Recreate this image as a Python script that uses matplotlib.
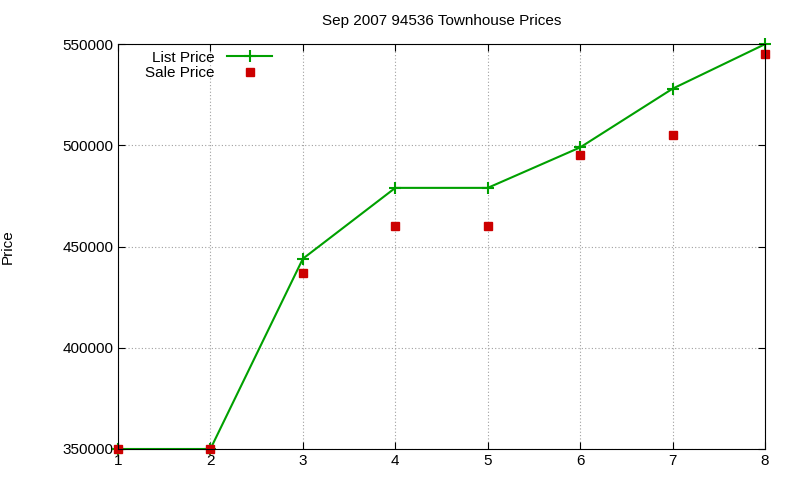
import matplotlib
matplotlib.use("Agg")
import matplotlib.pyplot as plt

x = [1, 2, 3, 4, 5, 6, 7, 8]
list_price = [350000, 350000, 444000, 479000, 479000, 499000, 528000, 550000]
sale_price = [350000, 350000, 437000, 460000, 460000, 495000, 505000, 545000]
yticks = [350000, 400000, 450000, 500000, 550000]

plt.rcParams['font.family'] = ['Liberation Sans', 'DejaVu Sans']
fig = plt.figure(figsize=(8, 4.8), dpi=100)
ax = fig.add_axes([0.1475, 0.0646, 0.8088, 0.8434])
ax.plot(x, list_price, color='#00a000', lw=1.5, marker='+', ms=8, mew=1.5, label='List Price', clip_on=False)
ax.plot(x, sale_price, ls='none', marker='s', color='#cc0000', ms=6, label='Sale Price', clip_on=False)
ax.set_xlim(1, 8)
ax.set_ylim(350000, 550000)
ax.set_yticks(yticks)
ax.set_yticklabels([str(v) for v in yticks])
ax.tick_params(direction='in', labelsize=11, length=5, top=True, right=True)
ax.grid(True, color='#a0a0a0', ls=(0, (1, 2)), lw=0.8)
ax.set_title('Sep 2007 94536 Townhouse Prices', fontsize=11, pad=14)
ax.set_ylabel('Price', fontsize=11, labelpad=34)
ax.legend(loc='upper left', bbox_to_anchor=(0.025, 1.01), frameon=False, markerfirst=False,
          fontsize=11, handlelength=3.0, labelspacing=0.1, borderaxespad=0.3)
for s in ax.spines.values():
    s.set_linewidth(0.8)
fig.savefig('out.png')
